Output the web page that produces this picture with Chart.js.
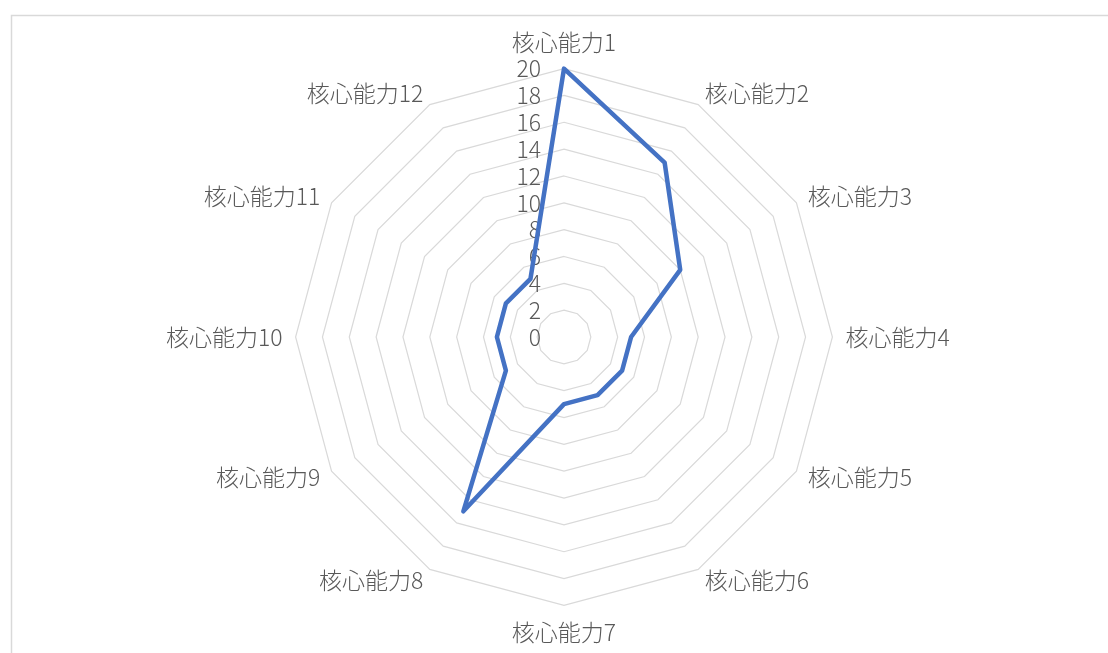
<!DOCTYPE html>
<html>
<head>
<meta charset="utf-8">
<script src="https://cdn.jsdelivr.net/npm/chart.js@4"></script>
<style>
  html, body { margin: 0; padding: 0; background: #fff; }
  #wrap { width: 1108px; height: 653px; }
</style>
</head>
<body>
<div id="wrap"><canvas id="myRadarChart"></canvas></div>
<script>
// data
var labels = ['核心能力1', '核心能力2', '核心能力3', '核心能力4', '核心能力5', '核心能力6',
              '核心能力7', '核心能力8', '核心能力9', '核心能力10', '核心能力11', '核心能力12'];
var scores = [20, 15, 10, 5, 5, 5, 5, 15, 5, 5, 5, 5];
var tickMin = 0;
var tickMax = 20;
var tickStep = 2;

var fontFamily = '"Noto Sans CJK JP", "Noto Sans CJK SC", sans-serif';
var fontSize = 23;
var textColor = '#595959';
var labelPad = 13;

// grey frame around the chart area (Excel style)
var framePlugin = {
    id: 'frame',
    beforeDraw: function(chart) {
        var ctx = chart.ctx;
        ctx.save();
        ctx.strokeStyle = '#d9d9d9';
        ctx.lineWidth = 1.5;
        ctx.strokeRect(11.5, 15.5, 2000, 2000);
        ctx.restore();
    }
};

// tick labels left of the vertical axis + category labels centred vertically
var textPlugin = {
    id: 'radarText',
    beforeDatasetsDraw: function(chart) {
        var scale = chart.scales.r;
        var ctx = chart.ctx;
        ctx.save();
        ctx.font = '300 ' + fontSize + 'px ' + fontFamily;
        ctx.fillStyle = textColor;
        ctx.textAlign = 'right';
        ctx.textBaseline = 'middle';
        scale.ticks.forEach(function(t) {
            var d = scale.getDistanceFromCenterForValue(t.value);
            ctx.fillText(t.value, scale.xCenter - 23, scale.yCenter - d);
        });

        var h = fontSize * 1.2;
        labels.forEach(function(lbl, i) {
            var p = scale.getPointPosition(i, scale.drawingArea + labelPad);
            var deg = Math.round(i * 360 / labels.length);
            var y = p.y;
            if (deg === 0) {
                ctx.textAlign = 'center';
                y = p.y - h / 2;
            } else if (deg === 180) {
                ctx.textAlign = 'center';
                y = p.y + h / 2;
            } else if (deg < 180) {
                ctx.textAlign = 'left';
            } else {
                ctx.textAlign = 'right';
            }
            ctx.fillText(lbl, p.x, y);
        });
        ctx.restore();
    }
};

var ctx = document.getElementById('myRadarChart').getContext('2d');
var myRadarChart = new Chart(ctx, {
    type: 'radar',
    data: {
        labels: labels,
        datasets: [{
            data: scores,
            borderColor: '#4472C4',
            backgroundColor: 'rgba(0,0,0,0)',
            borderWidth: 4.5,
            borderJoinStyle: 'round',
            pointRadius: 0,
            fill: false
        }]
    },
    options: {
        responsive: true,
        maintainAspectRatio: false,
        animation: false,
        layout: {
            padding: { left: 20, right: 0, top: 29, bottom: 6 }
        },
        plugins: {
            legend: { display: false },
            tooltip: { enabled: false }
        },
        scales: {
            r: {
                min: tickMin,
                max: tickMax,
                ticks: {
                    stepSize: tickStep,
                    display: false
                },
                angleLines: { display: false },
                grid: {
                    color: '#d9d9d9',
                    lineWidth: 1.2
                },
                pointLabels: {
                    padding: labelPad,
                    color: 'rgba(0,0,0,0)', // drawn by radarText plugin
                    font: { family: fontFamily, size: fontSize }
                }
            }
        }
    },
    plugins: [framePlugin, textPlugin]
});
</script>
</body>
</html>
